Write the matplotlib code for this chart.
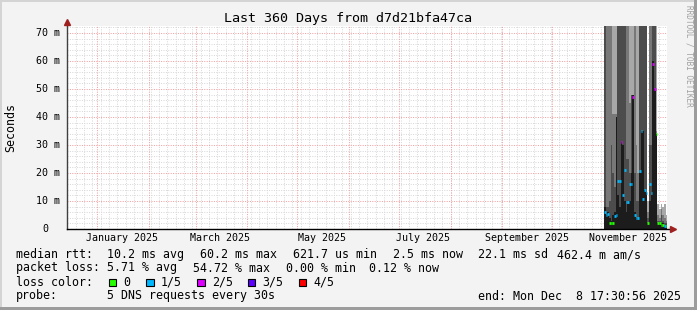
import datetime as dt

import matplotlib
matplotlib.use("Agg")
import matplotlib.pyplot as plt
import matplotlib.dates as mdates
from matplotlib.patches import Rectangle
from matplotlib.transforms import blended_transform_factory

W, H = 697, 310

# time window of the graph
t_end = dt.datetime(2025, 12, 8, 17, 30, 56)
t_start = t_end - dt.timedelta(days=360)

# smoke per day, starting Nov 1 2025 (values in ms, >72 means off the top)
first_day = dt.datetime(2025, 11, 1)
smoke_max = [100, 100, 100, 100, 100, 100, 100, 100, 100, 100,
             100, 100, 100, 100, 100, 100, 100, 100, 100, 100,
             100, 100, 100, 100, 100, 100, 10, 100, 100, 100,
             100, 100, 9, 7, 9, 8, 9, 5]
smoke_upper = [100, 100, 100, 100, 100, 41, 41, 41, 100, 100,
               100, 100, 100, 100, 100, 45, 48, 48, 100, 30,
               20, 100, 100, 100, 100, 100, 6, 100, 100, 100,
               100, 35, 5, 4, 7, 5, 4, 3]
smoke_lower = [100, 8, 8, 10, 30, 20, 15, 40, 100, 100,
               100, 100, 100, 25, 25, 20, 48, 48, 20, 10,
               10, 100, 100, 100, 100, 100, 4, 30, 30, 100,
               100, 34, 3, 3, 5, 3, 2, 2]
smoke_core = [8, 5, 6, 4, 3, 5, 6, 40, 12, 8,
              31, 30, 10, 6, 9, 10, 20, 48, 6, 4,
              4, 20, 35, 35, 14, 13, 2, 10, 12, 60,
              50, 34, 2, 2, 2, 2, 1, 1]
median_ms = [6, 5, 5.3, 2, 2, 2, 4.5, 5, 17, 17,
             31, 12, 21, 9.6, 9.6, 16, 16, 47, 5, 4,
             4, 20.6, 35, 10.7, 14, 13, 2, 16, 13, 59,
             50, 34, 2, 2, 1.5, 1.5, 1, 1]
loss_level = [1, 1, 1, 0, 0, 0, 1, 1, 1, 1,
              2, 1, 1, 1, 1, 1, 1, 2, 1, 1,
              1, 1, 1, 1, 1, 1, 0, 1, 1, 2,
              2, 0, 0, 0, 0, 0, 1, 0]

loss_labels = ["0", "1/5", "2/5", "3/5", "4/5"]
loss_colors = ["#26ff00", "#00b8ff", "#dd00ff", "#5e00ff", "#ff0000"]

y_ticks = [0, 10, 20, 30, 40, 50, 60, 70]
y_tick_labels = ["0", "10 m", "20 m", "30 m", "40 m", "50 m", "60 m", "70 m"]
month_labels = ["January 2025", "March 2025", "May 2025",
                "July 2025", "September 2025", "November 2025"]
month_label_nums = [1, 3, 5, 7, 9, 11]

title = "Last 360 Days from d7d21bfa47ca"
rtt_items = ["10.2 ms avg", "60.2 ms max", "621.7 us min",
             "2.5 ms now", "22.1 ms sd", "462.4 m am/s"]
loss_items = ["5.71 % avg", "54.72 % max", "0.00 % min", "0.12 % now"]
probe_text = "5 DNS requests every 30s"
end_text = "end: Mon Dec  8 17:30:56 2025"

MONO = "DejaVu Sans Mono"


def fx(x):
    return x / W


def fy(y):
    return 1 - y / H


def main():
    fig = plt.figure(figsize=(W / 100, H / 100), dpi=100, facecolor="#f3f3f3")

    # 3d-ish frame like rrdtool
    fig.patches.append(Rectangle((0, fy(2)), 1, 2 / H, transform=fig.transFigure,
                                 color="#d4d4d4", lw=0))
    fig.patches.append(Rectangle((0, 0), 2 / W, 1, transform=fig.transFigure,
                                 color="#d4d4d4", lw=0))
    fig.patches.append(Rectangle((0, 0), 1, 3 / H, transform=fig.transFigure,
                                 color="#9c9c9c", lw=0))
    fig.patches.append(Rectangle((fx(694), 0), 3 / W, 1, transform=fig.transFigure,
                                 color="#9c9c9c", lw=0))

    ax = fig.add_axes([fx(67), fy(229), 600 / W, (229 - 26.3) / H])
    ax.set_facecolor("white")
    ax.set_xlim(mdates.date2num(t_start), mdates.date2num(t_end))
    ax.set_ylim(0, 72.4)
    for s in ax.spines.values():
        s.set_visible(False)

    # grid
    dot = (0, (1, 1.4))
    for v in range(2, 73, 2):
        if v % 10:
            ax.axhline(v, color="#d8d8d8", lw=0.72, ls=dot, zorder=0)
    minor_days = []
    d = dt.datetime(2024, 12, 14)
    while d < t_end:
        minor_days.append(d)
        d += dt.timedelta(days=5)
    for d in minor_days:
        ax.axvline(mdates.date2num(d), color="#d8d8d8", lw=0.72, ls=dot, zorder=0)
    for v in y_ticks[1:]:
        ax.axhline(v, color="#f0a0a0", lw=0.72, ls=dot, zorder=0.5)
    for m in range(1, 13):
        ax.axvline(mdates.date2num(dt.datetime(2025, m, 1)), color="#f0a0a0",
                   lw=0.72, ls=dot, zorder=0.5)

    # smoke
    days = [mdates.date2num(first_day + dt.timedelta(days=i)) for i in range(len(smoke_max))]
    ax.bar(days, smoke_max, width=1.0, align="edge", color="#a8a8a8", lw=0, zorder=2)
    ax.bar(days, smoke_upper, width=1.0, align="edge", color="#787878", lw=0, zorder=2)
    ax.bar(days, smoke_lower, width=1.0, align="edge", color="#4c4c4c", lw=0, zorder=2)
    ax.bar(days, smoke_core, width=1.0, align="edge", color="#1c1c1c", lw=0, zorder=2)

    # median coloured by loss
    ax.hlines(median_ms, days, [x + 1 for x in days],
              colors=[loss_colors[k] for k in loss_level], lw=2.0, zorder=3)

    # axes lines + arrows
    ax.plot([0, 0], [0, 1 + 3.5 / 202.7], transform=ax.transAxes, color="#404040",
            lw=1, clip_on=False, zorder=4)
    ax.plot([0, 1 + 5 / 600], [0, 0], transform=ax.transAxes, color="black",
            lw=1, clip_on=False, zorder=4)
    ax.plot([0], [1 + 4 / 202.7], transform=ax.transAxes, marker="^", ms=5,
            color="#a02020", clip_on=False, zorder=5)
    ax.plot([1 + 6 / 600], [0], transform=ax.transAxes, marker=">", ms=5,
            color="#a02020", clip_on=False, zorder=5)

    # ticks
    ax.set_yticks([])
    label_pos = [mdates.date2num(dt.datetime(2025, m, 15, 12)) for m in month_label_nums]
    ax.set_xticks(label_pos, month_labels, fontfamily=MONO, fontsize=7.2)
    ax.tick_params(axis="x", length=0, pad=3.2)
    tr = blended_transform_factory(ax.transAxes, ax.transData)
    for v, lab in zip(y_ticks, y_tick_labels):
        xr = (60 - 67) / 600 if lab != "0" else (48 - 67) / 600
        ax.text(xr, v, lab, transform=tr, ha="right", va="center",
                fontfamily=MONO, fontsize=7.2)

    fig.text(fx(348), fy(18.5), title, ha="center", va="center",
             fontfamily=MONO, fontsize=9.6)
    fig.text(fx(11), fy(128), "Seconds", rotation=90, ha="center", va="center",
             fontfamily=MONO, fontsize=8.4)
    fig.text(fx(688.5), fy(5), "RRDTOOL / TOBI OETIKER", rotation=270,
             ha="center", va="top", fontfamily=MONO, fontsize=5.6, color="#a0a0a0")

    # legend block
    fs = 8.4
    row1, row2, row3, row4 = 254.5, 268, 282, 296
    fig.text(fx(16), fy(row1), "median rtt:", va="center", fontfamily=MONO, fontsize=fs)
    for x, t in zip([107, 200, 293, 393, 478, 557], rtt_items):
        fig.text(fx(x), fy(row1), t, va="center", fontfamily=MONO, fontsize=fs)
    fig.text(fx(16), fy(row2), "packet loss:", va="center", fontfamily=MONO, fontsize=fs)
    for x, t in zip([107, 193, 286, 369], loss_items):
        fig.text(fx(x), fy(row2), t, va="center", fontfamily=MONO, fontsize=fs)
    fig.text(fx(16), fy(row3), "loss color:", va="center", fontfamily=MONO, fontsize=fs)
    for x, lab, col in zip([108.5, 146, 197, 247.5, 298.5], loss_labels, loss_colors):
        fig.patches.append(Rectangle((fx(x), fy(286)), 7.5 / W, 7.5 / H,
                                     transform=fig.transFigure, facecolor=col,
                                     edgecolor="black", lw=0.8))
        fig.text(fx(x + 15), fy(row3), lab, va="center", fontfamily=MONO, fontsize=fs)
    fig.text(fx(16), fy(row4), "probe:", va="center", fontfamily=MONO, fontsize=fs)
    fig.text(fx(107), fy(row4), probe_text, va="center", fontfamily=MONO, fontsize=fs)
    fig.text(fx(478), fy(row4), end_text, va="center", fontfamily=MONO, fontsize=fs)

    fig.savefig("out.png", dpi=100, facecolor=fig.get_facecolor())


if __name__ == "__main__":
    main()
